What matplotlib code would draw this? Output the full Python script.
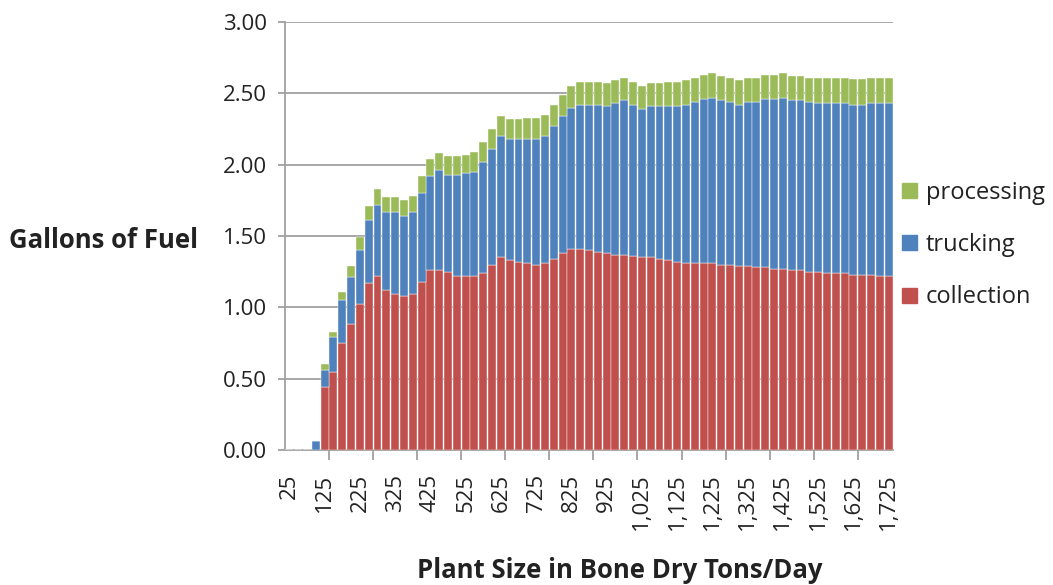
import numpy as np
import matplotlib
matplotlib.use("Agg")
import matplotlib.pyplot as plt
from matplotlib.patches import Patch

plt.rcParams["font.family"] = ["Open Sans", "DejaVu Sans"]

# plant size categories (bone dry tons/day)
plant_size = list(range(25, 1726, 25))

collection = [
    0.00, 0.00, 0.00, 0.00, 0.44, 0.55, 0.75, 0.88, 1.02, 1.17,
    1.22, 1.12, 1.09, 1.08, 1.09, 1.18, 1.26, 1.26, 1.25, 1.22,
    1.22, 1.22, 1.24, 1.30, 1.35, 1.33, 1.32, 1.31, 1.30, 1.31,
    1.34, 1.38, 1.41, 1.41, 1.40, 1.39, 1.38, 1.37, 1.37, 1.36,
    1.35, 1.35, 1.34, 1.33, 1.32, 1.31, 1.31, 1.31, 1.31, 1.30,
    1.30, 1.29, 1.29, 1.28, 1.28, 1.27, 1.27, 1.26, 1.26, 1.25,
    1.25, 1.24, 1.24, 1.24, 1.23, 1.23, 1.23, 1.22, 1.22,
]
trucking = [
    0.00, 0.00, 0.00, 0.065, 0.12, 0.24, 0.30, 0.33, 0.38, 0.44,
    0.50, 0.55, 0.58, 0.56, 0.58, 0.62, 0.66, 0.70, 0.68, 0.71,
    0.72, 0.73, 0.78, 0.81, 0.85, 0.85, 0.86, 0.87, 0.88, 0.89,
    0.93, 0.96, 0.99, 1.01, 1.02, 1.03, 1.03, 1.06, 1.08, 1.06,
    1.04, 1.06, 1.07, 1.08, 1.09, 1.11, 1.13, 1.15, 1.16, 1.15,
    1.14, 1.13, 1.15, 1.16, 1.18, 1.19, 1.20, 1.19, 1.19, 1.19,
    1.18, 1.19, 1.19, 1.19, 1.19, 1.19, 1.20, 1.21, 1.21,
]
processing = [
    0.00, 0.00, 0.00, 0.00, 0.04, 0.04, 0.06, 0.08, 0.09, 0.10,
    0.11, 0.10, 0.10, 0.11, 0.11, 0.12, 0.12, 0.12, 0.13, 0.13,
    0.13, 0.14, 0.14, 0.14, 0.14, 0.14, 0.14, 0.15, 0.15, 0.15,
    0.15, 0.15, 0.15, 0.16, 0.16, 0.16, 0.16, 0.16, 0.16, 0.16,
    0.16, 0.16, 0.16, 0.17, 0.17, 0.17, 0.17, 0.17, 0.17, 0.17,
    0.17, 0.17, 0.17, 0.17, 0.17, 0.17, 0.17, 0.17, 0.17, 0.17,
    0.18, 0.18, 0.18, 0.18, 0.18, 0.18, 0.18, 0.18, 0.18,
]

RED, BLUE, GREEN = "#C0504D", "#4F81BD", "#9BBB59"
GRID = "#A0A0A0"
TXT = "#222222"

fig = plt.figure(figsize=(10.53, 5.85), dpi=100)
ax = fig.add_axes([285 / 1053, 1 - 450 / 585, (893 - 285) / 1053, (450 - 22) / 585])

x = np.arange(len(plant_size))
c = np.array(collection)
t = np.array(trucking)
p = np.array(processing)
kw = dict(width=0.9, edgecolor="white", linewidth=0.3, zorder=3)
ax.bar(x, c, color=RED, **kw)
ax.bar(x, t, bottom=c, color=BLUE, **kw)
ax.bar(x, p, bottom=c + t, color=GREEN, **kw)

ax.set_xlim(-0.5, len(plant_size) - 0.5)
ax.set_ylim(0, 3.0)
yt = np.arange(0, 3.01, 0.5)
ax.set_yticks(yt)
ax.set_yticklabels(["%.2f" % v for v in yt], fontsize=16, color=TXT)
ax.grid(True, axis="y", color=GRID, linewidth=1.3, zorder=0)
ax.tick_params(axis="y", length=5, width=1.3, color=GRID, pad=8)

# tick marks every 5 categories, labels every 4 categories
ax.set_xticks(np.arange(4.5, len(plant_size) - 1, 5))
ax.set_xticklabels([])
ax.tick_params(axis="x", which="major", length=7, width=1.3, color=GRID)
lab_idx = np.arange(0, len(plant_size), 4)
ax.set_xticks(lab_idx, minor=True)
ax.set_xticklabels(["{:,}".format(plant_size[i]) for i in lab_idx], minor=True,
                   rotation=90, fontsize=16, color=TXT)
ax.tick_params(axis="x", which="minor", length=0, pad=17)

for s in ["top", "right"]:
    ax.spines[s].set_visible(False)
for s in ["left", "bottom"]:
    ax.spines[s].set_color(GRID)
    ax.spines[s].set_linewidth(1.3)

fig.text(9 / 1053, 1 - 241 / 585, "Gallons of Fuel", fontsize=18.5, fontweight="bold",
         ha="left", va="center", color=TXT)
fig.text(620 / 1053, 1 - 570 / 585, "Plant Size in Bone Dry Tons/Day", fontsize=18.5,
         fontweight="bold", ha="center", va="center", color=TXT)

handles = [Patch(color=GREEN), Patch(color=BLUE), Patch(color=RED)]
fig.legend(handles, ["processing", "trucking", "collection"], loc="center left",
           bbox_to_anchor=(893 / 1053, 1 - 245 / 585), frameon=False, fontsize=17,
           handlelength=0.6, handleheight=0.6, handletextpad=0.4, labelspacing=1.2,
           borderaxespad=0, labelcolor=TXT)

fig.savefig("out.png", dpi=100)
